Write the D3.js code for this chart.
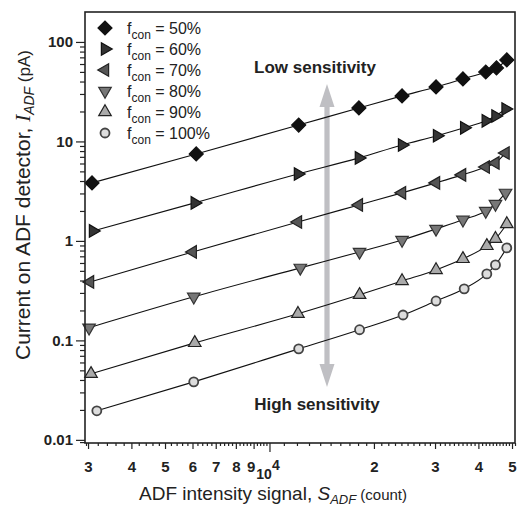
<!DOCTYPE html>
<html>
<head>
<meta charset="utf-8">
<script src="https://cdn.jsdelivr.net/npm/d3@7"></script>
<style>
  body { margin: 0; background: #fff; }
  svg { display: block; font-family: "Liberation Sans", Arial, sans-serif; }
</style>
</head>
<body>
<div id="chart"></div>
<script>
// data
var labels = ["50%", "60%", "70%", "80%", "90%", "100%"];

var sig50 = [3080, 6150, 12140, 18100, 24100, 30200, 36100, 42000, 45100, 48300];
var cur50 = [3.83, 7.49, 14.6, 21.7, 28.7, 35.3, 42.5, 49.9, 54.8, 65.9];
var sig60 = [3100, 6090, 12080, 18100, 24100, 30400, 36400, 42000, 44800, 47900];
var cur60 = [1.26, 2.41, 4.71, 6.83, 9.22, 11.4, 13.7, 16.1, 18.0, 21.2];
var sig70 = [3040, 6010, 12080, 18100, 24100, 30200, 35900, 42000, 44800, 47900];
var cur70 = [0.387, 0.775, 1.55, 2.30, 3.04, 3.83, 4.61, 5.54, 6.08, 7.66];
var sig80 = [3020, 6050, 12270, 18180, 24100, 30200, 36100, 42000, 44800, 47900];
var cur80 = [0.134, 0.274, 0.536, 0.775, 1.02, 1.32, 1.63, 2.00, 2.35, 3.04];
var sig90 = [3060, 6090, 12080, 18180, 24100, 30200, 36100, 42300, 44800, 48300];
var cur90 = [0.0461, 0.0944, 0.185, 0.287, 0.396, 0.511, 0.660, 0.891, 1.05, 1.48];
var sig100 = [3180, 6050, 12140, 18180, 24260, 30200, 36400, 42300, 44800, 48300];
var cur100 = [0.0196, 0.0383, 0.0822, 0.128, 0.180, 0.249, 0.330, 0.466, 0.574, 0.851];

var yTicks = [0.01, 0.1, 1, 10, 100];
var yTickLabels = ["0.01", "0.1", "1", "10", "100"];
var xTicks = [3000, 4000, 5000, 6000, 7000, 8000, 9000, 20000, 30000, 40000, 50000];
var xTickLabels = ["3", "4", "5", "6", "7", "8", "9", "2", "3", "4", "5"];

var series = [
    { sig: sig50, cur: cur50, shape: "diamond", fill: "#111", stroke: "#111" },
    { sig: sig60, cur: cur60, shape: "right", fill: "#333", stroke: "#111" },
    { sig: sig70, cur: cur70, shape: "left", fill: "#555", stroke: "#222" },
    { sig: sig80, cur: cur80, shape: "down", fill: "#777", stroke: "#333" },
    { sig: sig90, cur: cur90, shape: "up", fill: "#aaa", stroke: "#222" },
    { sig: sig100, cur: cur100, shape: "circle", fill: "#ddd", stroke: "#444" }
];

var width = 518, height = 508;
var svg = d3.select("#chart").append("svg")
    .attr("width", width)
    .attr("height", height);

var x = d3.scaleLog().domain([2940, 51000]).range([85, 515]);
var y = d3.scaleLog().domain([0.0093, 200]).range([443, 12]);

// symbol path + rotation for each marker kind
function markerPath(shape) {
    if (shape == "diamond") return d3.symbol().type(d3.symbolSquare).size(98)();
    if (shape == "circle") return d3.symbol().type(d3.symbolCircle).size(64)();
    return d3.symbol().type(d3.symbolTriangle).size(68)();
}
function markerRot(shape) {
    return { diamond: 45, right: 90, left: -90, down: 180, up: 0, circle: 0 }[shape];
}
function addMarker(g, s, cx, cy) {
    g.append("path")
        .attr("d", markerPath(s.shape))
        .attr("transform", "translate(" + cx + "," + cy + ") rotate(" + markerRot(s.shape) + ")")
        .style("fill", s.fill)
        .style("stroke", s.stroke)
        .style("stroke-width", s.shape == "circle" ? 1.8 : 1.2);
}

// gray arrow (behind the curves)
var ax = 327, aTop = 84, aBot = 387, hw = 7.5, hl = 23, sw = 2.6;
svg.append("path")
    .attr("d", "M" + ax + "," + aTop + "L" + (ax + hw) + "," + (aTop + hl) + "L" + (ax + sw) + "," + (aTop + hl) +
        "L" + (ax + sw) + "," + (aBot - hl) + "L" + (ax + hw) + "," + (aBot - hl) + "L" + ax + "," + aBot +
        "L" + (ax - hw) + "," + (aBot - hl) + "L" + (ax - sw) + "," + (aBot - hl) + "L" + (ax - sw) + "," + (aTop + hl) +
        "L" + (ax - hw) + "," + (aTop + hl) + "Z")
    .style("fill", "#bfbfc3");

svg.append("text").text("Low sensitivity")
    .attr("x", 315).attr("y", 73)
    .attr("text-anchor", "middle")
    .style("font-weight", "bold").style("font-size", "17px").style("fill", "#222");
svg.append("text").text("High sensitivity")
    .attr("x", 317).attr("y", 410)
    .attr("text-anchor", "middle")
    .style("font-weight", "bold").style("font-size", "17px").style("fill", "#222");

// curves and markers
var line = d3.line()
    .x(function (d) { return x(d[0]); })
    .y(function (d) { return y(d[1]); })
    .curve(d3.curveMonotoneX);

series.forEach(function (s) {
    var pts = s.sig.map(function (v, i) { return [v, s.cur[i]]; });
    svg.append("path")
        .datum(pts)
        .attr("d", line)
        .style("fill", "none")
        .style("stroke", "#111")
        .style("stroke-width", 1.1);
    var g = svg.append("g");
    pts.forEach(function (p) { addMarker(g, s, x(p[0]), y(p[1])); });
});

// frame
svg.append("rect")
    .attr("x", 85).attr("y", 12)
    .attr("width", 430).attr("height", 431)
    .style("fill", "none").style("stroke", "#222").style("stroke-width", 1.6);

// y axis: major + minor ticks
var yMinor = [];
[0.01, 0.1, 1, 10, 100].forEach(function (d) {
    for (var k = 2; k <= 9; k++) if (d * k < 200) yMinor.push(d * k);
});
yMinor.push(0.0095);

svg.append("g").attr("transform", "translate(85,0)")
    .call(d3.axisLeft(y).tickValues(yTicks).tickSize(9).tickPadding(3)
        .tickFormat(function (d, i) { return yTickLabels[i]; }));
svg.append("g").attr("transform", "translate(85,0)")
    .call(d3.axisLeft(y).tickValues(yMinor).tickSize(5).tickFormat(""));

// x axis: 10^4 long, integer multiples medium, finer minors short
var xMinor = [];
for (var v = 3200; v < 10000; v += 200) if (v % 1000 != 0) xMinor.push(v);
for (var w = 11000; w <= 51000; w += 1000) if (w % 10000 != 0) xMinor.push(w);
xMinor.push(2960);

svg.append("g").attr("transform", "translate(0,443)")
    .call(d3.axisBottom(x).tickValues([10000]).tickSize(9).tickFormat(""));
svg.append("g").attr("transform", "translate(0,443)")
    .call(d3.axisBottom(x).tickValues(xTicks).tickSize(6).tickPadding(12)
        .tickFormat(function (d, i) { return xTickLabels[i]; }));
svg.append("g").attr("transform", "translate(0,443)")
    .call(d3.axisBottom(x).tickValues(xMinor).tickSize(3).tickFormat(""));

svg.selectAll(".domain").remove();
svg.selectAll(".tick line").style("stroke", "#222").style("stroke-width", 1.2);
svg.selectAll(".tick text")
    .style("font-size", "15px").style("font-weight", "bold")
    .style("fill", "#222").style("font-family", "'Liberation Sans', Arial, sans-serif");
// nudge the "9" label left as in the figure
svg.selectAll(".tick text").filter(function (d) { return d == 9000; }).attr("dx", -3);

// 10^4 label, lowered with superscript
svg.append("text").text("10")
    .attr("x", 264).attr("y", 479)
    .attr("text-anchor", "middle")
    .style("font-size", "14px").style("font-weight", "bold").style("fill", "#222");
svg.append("text").text("4")
    .attr("x", 272).attr("y", 470)
    .style("font-size", "14px").style("font-weight", "bold").style("fill", "#222");

// legend
var leg = svg.append("g");
series.forEach(function (s, i) {
    var ly = 28 + 21 * i;
    addMarker(leg, s, 105, ly);
    var t = leg.append("text")
        .attr("x", 127).attr("y", ly + 6)
        .style("font-size", "16px").style("fill", "#222");
    t.append("tspan").text("f");
    t.append("tspan").text("con").attr("dy", 5).style("font-size", "12px");
    t.append("tspan").text(" = " + labels[i]).attr("dy", -5);
});

// axis titles
var xt = svg.append("text")
    .attr("x", 273).attr("y", 500)
    .attr("text-anchor", "middle")
    .style("font-size", "19px").style("fill", "#222");
xt.append("tspan").text("ADF intensity signal, ");
xt.append("tspan").text("S").style("font-style", "italic");
xt.append("tspan").text("ADF").attr("dy", 4).style("font-size", "13px").style("font-style", "italic");
xt.append("tspan").text(" (count)").attr("dy", -4).style("font-size", "15px");

var yt = svg.append("text")
    .attr("transform", "translate(30,205) rotate(-90)")
    .attr("text-anchor", "middle")
    .style("font-size", "21px").style("fill", "#222");
yt.append("tspan").text("Current on ADF detector, ");
yt.append("tspan").text("I").style("font-style", "italic").style("font-family", "'Liberation Serif', serif");
yt.append("tspan").text("ADF").attr("dy", 4).style("font-size", "14px").style("font-style", "italic");
yt.append("tspan").text(" (pA)").attr("dy", -4).style("font-size", "17px");
</script>
</body>
</html>
